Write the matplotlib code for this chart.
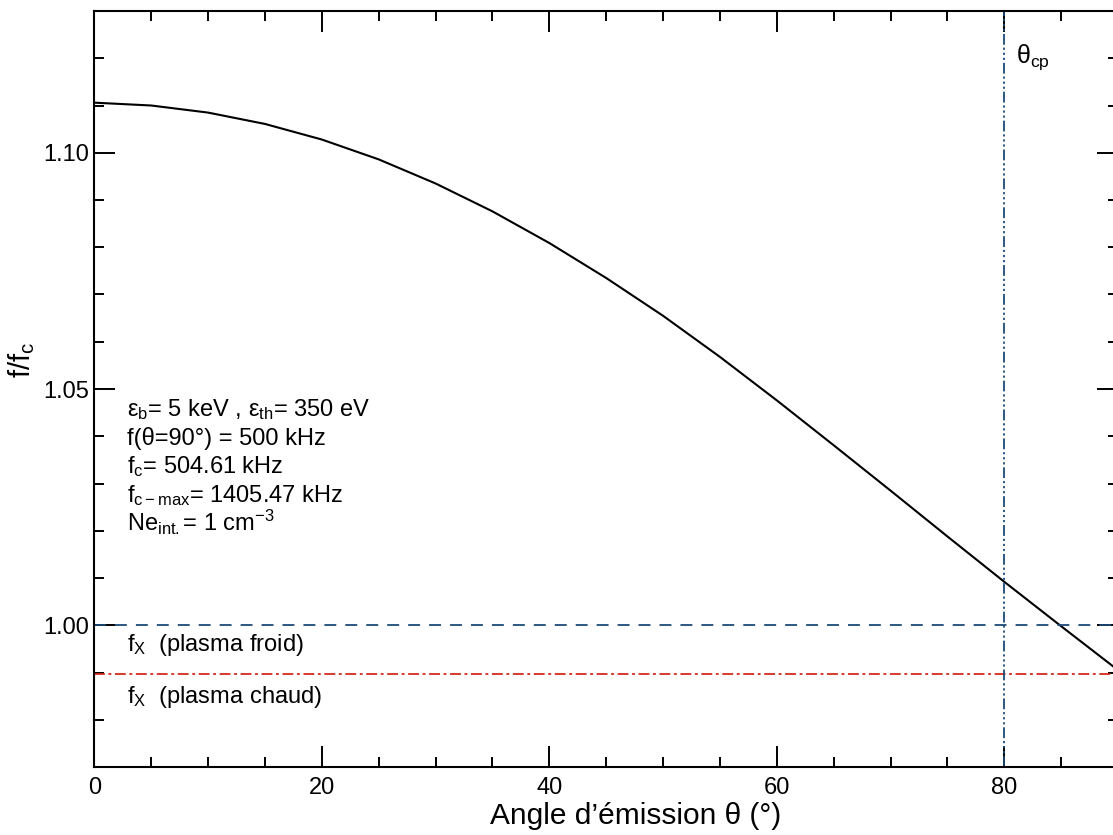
import matplotlib
matplotlib.use("Agg")
from matplotlib import pyplot as plt
from matplotlib.ticker import MultipleLocator, FormatStrFormatter

plt.rcParams["font.family"] = ["Liberation Sans", "DejaVu Sans"]
plt.rcParams["mathtext.fontset"] = "custom"
plt.rcParams["mathtext.rm"] = "Liberation Sans"
plt.rcParams["mathtext.it"] = "Liberation Sans:italic"
plt.rcParams["mathtext.default"] = "regular"

# f/fc vs emission angle
theta = [0, 5, 10, 15, 20, 25, 30, 35, 40, 45, 50, 55, 60, 65, 70, 75, 80, 85, 90]
f_ratio = [1.1106, 1.1100, 1.1085, 1.1061, 1.1028, 1.0986, 1.0935, 1.0876,
           1.0809, 1.0735, 1.0655, 1.0568, 1.0476, 1.0381, 1.0285, 1.0188,
           1.0092, 0.9998, 0.9905]

fx_cold = 1.000
fx_hot = 0.9896
theta_cp = 80.0

info_lines = [
    "ε$_{b}$= 5 keV , ε$_{th}$= 350 eV",
    "f(θ=90°) = 500 kHz",
    "f$_{c}$= 504.61 kHz",
    "f$_{c-max}$= 1405.47 kHz",
    "Ne$_{int.}$= 1 cm$^{-3}$",
]

W, H = 1113, 835
fig = plt.figure(figsize=(W / 100, H / 100), dpi=100)
ax = fig.add_axes([94.3 / W, 1 - 767 / H, (1118 - 94.3) / W, (767 - 11) / H])

ax.plot(theta, f_ratio, color="black", lw=1.5)
ax.axhline(fx_cold, color="#1d4a78", lw=1.3, dashes=(6.6, 5))
ax.axhline(fx_hot, color="#d42a1c", lw=1.3, dashes=(6, 2, 1.6, 2))
ax.axvline(theta_cp, color="#1d4a78", lw=1.3,
           dashes=(6, 1.6, 1.2, 1.6, 1.2, 1.6, 1.2, 1.6))

ax.set_xlim(0, 90)
ax.set_ylim(0.97, 1.13)
ax.xaxis.set_major_locator(MultipleLocator(20))
ax.xaxis.set_minor_locator(MultipleLocator(5))
ax.yaxis.set_major_locator(MultipleLocator(0.05))
ax.yaxis.set_minor_locator(MultipleLocator(0.01))
ax.yaxis.set_major_formatter(FormatStrFormatter("%.2f"))

ax.tick_params(which="both", direction="in", top=True, right=True, width=1.4,
               labelsize=17)
ax.tick_params(which="major", length=15)
ax.tick_params(which="minor", length=7)
ax.tick_params(axis="x", pad=7)
ax.tick_params(axis="y", pad=4)
for s in ax.spines.values():
    s.set_linewidth(1.5)

# annotations
for i, line in enumerate(info_lines):
    ax.text(2.9, 1.0443 - i * 0.0061, line, fontsize=17, va="baseline")
ax.text(2.9, 0.9945, "f$_{X}$  (plasma froid)", fontsize=17, va="baseline")
ax.text(2.9, 0.9835, "f$_{X}$  (plasma chaud)", fontsize=17, va="baseline")
ax.text(81.0, 1.119, "θ$_{cp}$", fontsize=18, va="baseline")

fig.text(636 / W, 1 - 816 / H, "Angle d’émission θ (°)", fontsize=21.5,
         ha="center", va="center")
fig.text(22 / W, 1 - 360 / H, "f/f$_{c}$", fontsize=21, rotation=90,
         ha="center", va="center")

fig.savefig("out.png", dpi=100)
